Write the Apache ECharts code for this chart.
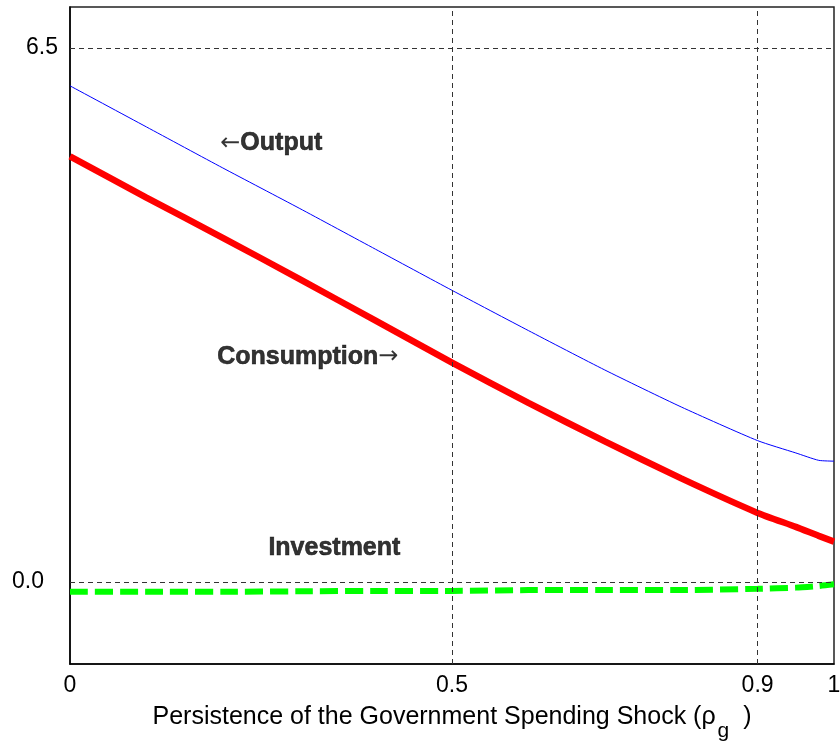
<!DOCTYPE html>
<html>
<head>
<meta charset="utf-8">
<script src="https://cdn.jsdelivr.net/npm/echarts@6/dist/echarts.min.js"></script>
<style>html,body{margin:0;padding:0;background:#fff;}#c{width:840px;height:742px;}</style>
</head>
<body>
<div id="c"></div>
<script>
const rho = [0, 0.1, 0.2, 0.3, 0.4, 0.5, 0.6, 0.7, 0.8, 0.9, 0.95, 0.98, 1.0];
const output = [6.04, 5.54, 5.04, 4.55, 4.05, 3.55, 3.06, 2.58, 2.13, 1.72, 1.57, 1.48, 1.47];
const consumption = [5.18, 4.68, 4.19, 3.69, 3.18, 2.67, 2.18, 1.71, 1.26, 0.84, 0.67, 0.56, 0.49];
const investment = [-0.12, -0.12, -0.12, -0.115, -0.11, -0.11, -0.10, -0.10, -0.10, -0.085, -0.07, -0.05, -0.03];
const xTicks = [0, 0.5, 0.9, 1];
const yTicks = [0, 6.5];
const annotations = [
  [0.196, 5.34, '{r|←}{t|Output}'],
  [0.192, 2.735, '{t|Consumption}{r|→}'],
  [0.259, 0.41, '{t|Investment}']
];

const FONT = 'Liberation Sans, Arial, sans-serif';
const pair = arr => rho.map((x, i) => [x, arr[i]]);

const chart = echarts.init(document.getElementById('c'), null, {renderer: 'canvas'});
chart.setOption({
  animation: false,
  backgroundColor: '#fff',
  grid: {left: 70, right: 6, top: 7, bottom: 78, show: true, borderColor: '#222', borderWidth: 1.5,
         outerBoundsMode: 'none', containLabel: false},
  xAxis: {
    type: 'value', min: 0, max: 1,
    axisLine: {show: true, onZero: false, lineStyle: {color: '#000', width: 1.5}},
    axisTick: {show: false},
    splitLine: {show: false},
    axisLabel: {
      customValues: xTicks, margin: 10,
      fontFamily: FONT, fontSize: 23, color: '#000',
      formatter: v => String(v)
    },
    name: '{a|Persistence of the Government Spending Shock (ρ}{s|g}{a|  )}',
    nameLocation: 'middle', nameGap: 38,
    nameTextStyle: {
      fontFamily: FONT, fontSize: 25, color: '#000',
      rich: {
        a: {fontFamily: FONT, fontSize: 25, color: '#000', height: 30, verticalAlign: 'top'},
        s: {fontFamily: FONT, fontSize: 21, color: '#000', height: 30, verticalAlign: 'bottom', padding: [14, 0, 0, 2]}
      }
    }
  },
  yAxis: {
    type: 'value', min: -1, max: 7,
    axisLine: {show: true, onZero: false, lineStyle: {color: '#000', width: 1.5}},
    axisTick: {show: false},
    splitLine: {show: false},
    axisLabel: {
      customValues: yTicks, margin: 12,
      fontFamily: FONT, fontSize: 23, color: '#000',
      formatter: v => v === 0 ? '{b|0.0}' : '{a|' + v.toFixed(1) + '}',
      rich: {
        a: {fontFamily: FONT, fontSize: 23, color: '#000'},
        b: {fontFamily: FONT, fontSize: 23, color: '#000', padding: [0, 14, 0, 0]}
      }
    }
  },
  series: [
    {
      name: 'Output', type: 'line', data: pair(output), showSymbol: false, smooth: 0.2,
      lineStyle: {color: '#0000ff', width: 1}, z: 3
    },
    {
      name: 'Consumption', type: 'line', data: pair(consumption), showSymbol: false, smooth: 0.2,
      lineStyle: {color: '#ff0000', width: 6.5}, z: 3
    },
    {
      name: 'Investment', type: 'line', data: pair(investment), showSymbol: false, smooth: 0.2,
      lineStyle: {color: '#00ff00', width: 6, type: [18, 7]}, z: 3
    },
    {
      type: 'line', data: [], z: 10, silent: true,
      markLine: {
        silent: true, symbol: 'none', animation: false,
        label: {show: false},
        lineStyle: {color: '#333', width: 1, type: [5, 4]},
        data: [{yAxis: 6.5}, {yAxis: 0}, {xAxis: 0.5}, {xAxis: 0.9}]
      }
    },
    {
      type: 'scatter', data: annotations, symbolSize: 1, z: 12, silent: true,
      itemStyle: {color: 'rgba(0,0,0,0)'},
      label: {
        show: true, position: 'right', distance: 0,
        formatter: p => p.data[2],
        color: '#000',
        rich: {
          t: {fontFamily: FONT, fontWeight: 'bold', fontSize: 25, color: '#000', textBorderColor: '#000', textBorderWidth: 0.6},
          r: {fontFamily: 'DejaVu Sans', fontWeight: 'normal', fontSize: 24, color: '#000'}
        }
      }
    }
  ]
});
</script>
</body>
</html>
